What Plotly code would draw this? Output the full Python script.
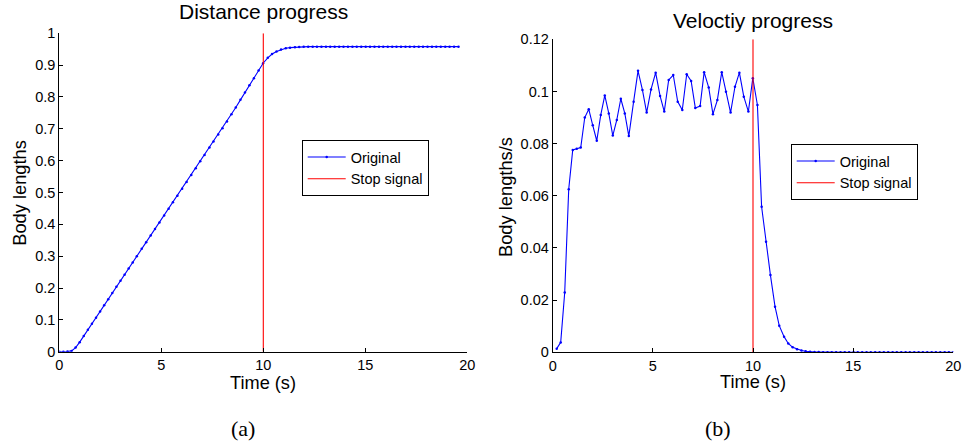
import plotly.graph_objects as go

# Sample times (s) of the velocity trace
time_s = [
    0.2, 0.4, 0.6, 0.8, 1.0, 1.2, 1.4, 1.6, 1.8, 2.0, 2.2, 2.4, 2.6, 2.8, 3.0, 3.2, 3.4, 3.6, 3.8,
    4.04, 4.26, 4.48, 4.69, 4.91, 5.14, 5.36, 5.57, 5.79, 6.02, 6.24, 6.47, 6.69, 6.91, 7.12, 7.36,
    7.56, 7.79, 8.0, 8.22, 8.44, 8.65, 8.88, 9.1, 9.32, 9.54, 9.77, 9.99,
    10.22, 10.43, 10.65, 10.87, 11.1, 11.31, 11.55, 11.76, 11.98, 12.2,
    12.42, 12.63, 12.85, 13.07, 13.28, 13.5, 13.72, 13.93, 14.15, 14.37, 14.58, 14.8, 15.02, 15.23,
    15.45, 15.67, 15.88, 16.1, 16.32, 16.53, 16.75, 16.97, 17.18, 17.4, 17.62, 17.83, 18.05, 18.27,
    18.48, 18.7, 18.92, 19.13, 19.35, 19.57, 19.78, 20.0,
]

# Velocity (body lengths / s)
velocity = [
    0.0014, 0.0038, 0.0229, 0.0625, 0.0776, 0.0780, 0.0785, 0.0900, 0.0932, 0.0870, 0.0811, 0.0910,
    0.0985, 0.0916, 0.0831, 0.0891, 0.0972, 0.0916, 0.0829,
    0.0961, 0.1079, 0.1006, 0.0919, 0.1008, 0.1072, 0.0983, 0.0923, 0.1044, 0.1063, 0.0961, 0.0929,
    0.1066, 0.1040, 0.0937, 0.0944, 0.1074, 0.1015, 0.0913, 0.0967, 0.1074, 0.0999, 0.0919, 0.1018,
    0.1072, 0.0980, 0.0923, 0.1051,
    0.0948, 0.0558, 0.0424, 0.0296, 0.0175, 0.0102, 0.0060, 0.0034, 0.0019, 0.0012,
    0.0007, 0.0004, 0.0002, 0.0001, 0.0001, 0.00005, 0.00003, 0.0, 0.0, 0.0, 0.0, 0.0, 0.0, 0.0,
    0.0, 0.0, 0.0, 0.0, 0.0, 0.0, 0.0, 0.0, 0.0, 0.0, 0.0, 0.0, 0.0, 0.0,
    0.0, 0.0, 0.0, 0.0, 0.0, 0.0, 0.0, 0.0,
]

# Distance is sampled at t = 0 and at every velocity sample time
distance_time_s = [0.0] + time_s

# Distance (body lengths)
distance = [
    0.0, 0.0, 0.0003, 0.0025, 0.013, 0.030, 0.049, 0.069, 0.088, 0.107, 0.126, 0.146, 0.165, 0.184,
    0.204, 0.223, 0.242, 0.261, 0.280, 0.300,
    0.323, 0.344, 0.365, 0.385, 0.406, 0.428, 0.449, 0.469, 0.490, 0.512, 0.533, 0.555, 0.576,
    0.598, 0.618, 0.641, 0.660, 0.682, 0.702, 0.723, 0.746, 0.767, 0.791, 0.814, 0.837, 0.859,
    0.883, 0.906,
    0.923, 0.935, 0.943, 0.949, 0.953, 0.955, 0.9565, 0.957, 0.9575, 0.958,
    0.958, 0.958, 0.958, 0.958, 0.958, 0.958, 0.958, 0.958, 0.958, 0.958, 0.958, 0.958, 0.958,
    0.958, 0.958, 0.958, 0.958, 0.958, 0.958, 0.958, 0.958, 0.958, 0.958, 0.958, 0.958, 0.958,
    0.958, 0.958, 0.958, 0.958, 0.958, 0.958, 0.958, 0.958,
]

stop_time = 10

x_ticks = [0, 5, 10, 15, 20]
x_tick_labels = ["0", "5", "10", "15", "20"]
dist_ticks = [0, 0.1, 0.2, 0.3, 0.4, 0.5, 0.6, 0.7, 0.8, 0.9, 1.0]
dist_tick_labels = ["0", "0.1", "0.2", "0.3", "0.4", "0.5", "0.6", "0.7", "0.8", "0.9", "1"]
vel_ticks = [0, 0.02, 0.04, 0.06, 0.08, 0.1, 0.12]
vel_tick_labels = ["0", "0.02", "0.04", "0.06", "0.08", "0.1", "0.12"]

FONT = "Liberation Sans, Arial, Helvetica, sans-serif"
SERIF = "Liberation Serif, DejaVu Serif, serif"
BLUE = "#0000ff"
RED = "#ff0000"
W, H = 962, 447

fig = go.Figure()

series_line = dict(color=BLUE, width=1.1)
series_marker = dict(color=BLUE, size=2.5)

fig.add_trace(go.Scatter(x=distance_time_s, y=distance, mode="lines+markers", name="Original",
                         line=series_line, marker=series_marker, xaxis="x", yaxis="y", legend="legend"))
fig.add_trace(go.Scatter(x=[stop_time, stop_time], y=[0, 1], mode="lines", name="Stop signal",
                         line=dict(color=RED, width=1.1), xaxis="x", yaxis="y", legend="legend"))
fig.add_trace(go.Scatter(x=time_s, y=velocity, mode="lines+markers", name="Original",
                         line=series_line, marker=series_marker, xaxis="x2", yaxis="y2", legend="legend2"))
fig.add_trace(go.Scatter(x=[stop_time, stop_time], y=[0, 0.12], mode="lines", name="Stop signal",
                         line=dict(color=RED, width=1.1), xaxis="x2", yaxis="y2", legend="legend2"))


def px_x(p):
    return p / W


def px_y(p):
    return 1 - p / H


axis_style = dict(showline=True, linecolor="black", linewidth=1, ticks="inside", ticklen=4,
                  tickcolor="black", tickwidth=1, showgrid=False, zeroline=False, mirror=False,
                  automargin=False, tickfont=dict(family=FONT, size=14.5, color="black"))

legend_style = dict(xanchor="left", yanchor="top", bgcolor="white", bordercolor="black",
                    borderwidth=1, font=dict(family=FONT, size=14.5, color="black"),
                    tracegroupgap=0, itemwidth=38)

fig.update_layout(
    width=W, height=H,
    margin=dict(l=0, r=0, t=0, b=0, autoexpand=False),
    paper_bgcolor="white", plot_bgcolor="white",
    xaxis=dict(domain=[px_x(59.3), px_x(467.3)], range=[0, 20], tickvals=x_ticks,
               ticktext=x_tick_labels, anchor="y", **axis_style),
    yaxis=dict(domain=[px_y(351.7), px_y(33.3)], range=[0, 1], tickvals=dist_ticks,
               ticktext=dist_tick_labels, anchor="x", **axis_style),
    xaxis2=dict(domain=[px_x(552.7), px_x(953.3)], range=[0, 20], tickvals=x_ticks,
                ticktext=x_tick_labels, anchor="y2", **axis_style),
    yaxis2=dict(domain=[px_y(352.3), px_y(39.3)], range=[0, 0.12], tickvals=vel_ticks,
                ticktext=vel_tick_labels, anchor="x2", **axis_style),
    legend=dict(x=px_x(301.7), y=px_y(140), **legend_style),
    legend2=dict(x=px_x(790.7), y=px_y(144), **legend_style),
    showlegend=True,
)

texts = [
    ("Distance progress", 263.3, 12, 21, 0, FONT),
    ("Veloctiy progress", 753.0, 20.5, 21, 0, FONT),
    ("Time (s)", 263.3, 383, 18.2, 0, FONT),
    ("Time (s)", 753.0, 382, 18.2, 0, FONT),
    ("Body lengths", 18.8, 193, 18.3, -90, FONT),
    ("Body lengths/s", 505.0, 197, 18.3, -90, FONT),
    ("(a)", 243, 428, 22, 0, SERIF),
    ("(b)", 718, 428, 22, 0, SERIF),
]
for text, x, y, size, angle, family in texts:
    fig.add_annotation(text=text, x=px_x(x), y=px_y(y), xref="paper", yref="paper",
                       xanchor="center", yanchor="middle", showarrow=False, textangle=angle,
                       font=dict(family=family, size=size, color="black"))

fig.write_html("out.html")
